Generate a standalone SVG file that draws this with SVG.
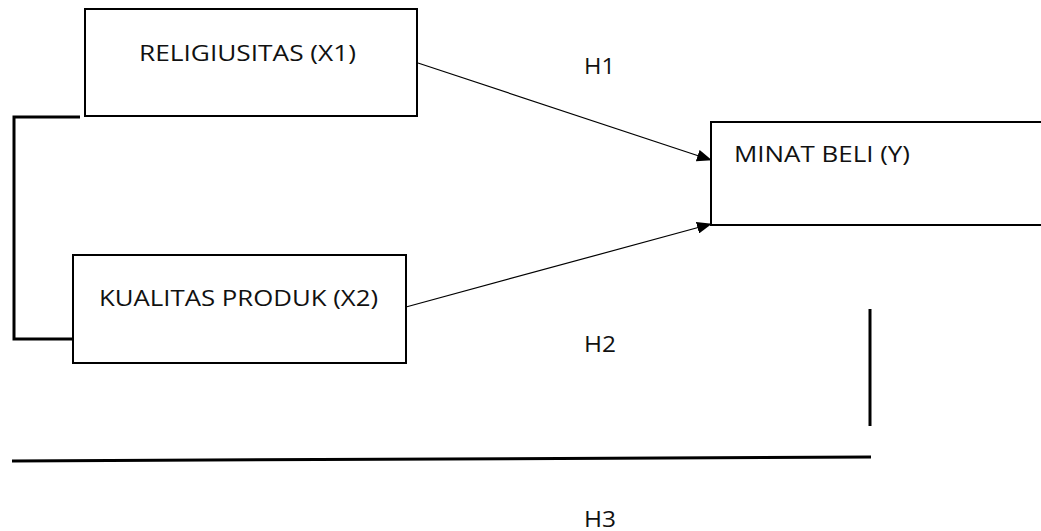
<svg xmlns="http://www.w3.org/2000/svg" width="1041" height="531" viewBox="0 0 1041 531">
<style>
.box{fill:#fff;stroke:#000;stroke-width:2}
.t{font-family:"Open Sans","Liberation Sans",sans-serif;font-size:22px;fill:#111}
.thick{stroke:#000;stroke-width:3;fill:none}
.arr{stroke:#000;stroke-width:1.2;fill:none;marker-end:url(#ah)}
</style>
<defs>
<marker id="ah" markerWidth="15" markerHeight="12" refX="14" refY="6" orient="auto" markerUnits="userSpaceOnUse">
<path d="M0,0 L15,6 L0,12 Z" fill="#000"/>
</marker>
</defs>
<g id="connectors">
<path class="thick" d="M80,117 H14 V339 H72"/>
<line class="arr" x1="418" y1="63" x2="711" y2="160"/>
<line class="arr" x1="406" y1="307" x2="711" y2="224"/>
<line class="thick" x1="870" y1="309" x2="870" y2="426"/>
<line class="thick" x1="12" y1="461" x2="871" y2="457"/>
</g>
<g id="x1">
<rect class="box" x="85" y="9" width="332" height="107"/>
<text class="t" x="139" y="61" textLength="217" lengthAdjust="spacingAndGlyphs">RELIGIUSITAS (X1)</text>
</g>
<g id="x2">
<rect class="box" x="73" y="255" width="333" height="108"/>
<text class="t" x="99" y="306" textLength="279" lengthAdjust="spacingAndGlyphs">KUALITAS PRODUK (X2)</text>
</g>
<g id="y">
<rect class="box" x="711" y="122" width="340" height="103"/>
<text class="t" x="734" y="162" textLength="176" lengthAdjust="spacingAndGlyphs">MINAT BELI (Y)</text>
</g>
<g id="labels">
<text class="t" x="584" y="74" textLength="31" lengthAdjust="spacingAndGlyphs">H1</text>
<text class="t" x="584" y="352" textLength="32" lengthAdjust="spacingAndGlyphs">H2</text>
<text class="t" x="584" y="527" textLength="32" lengthAdjust="spacingAndGlyphs">H3</text>
</g>
</svg>
